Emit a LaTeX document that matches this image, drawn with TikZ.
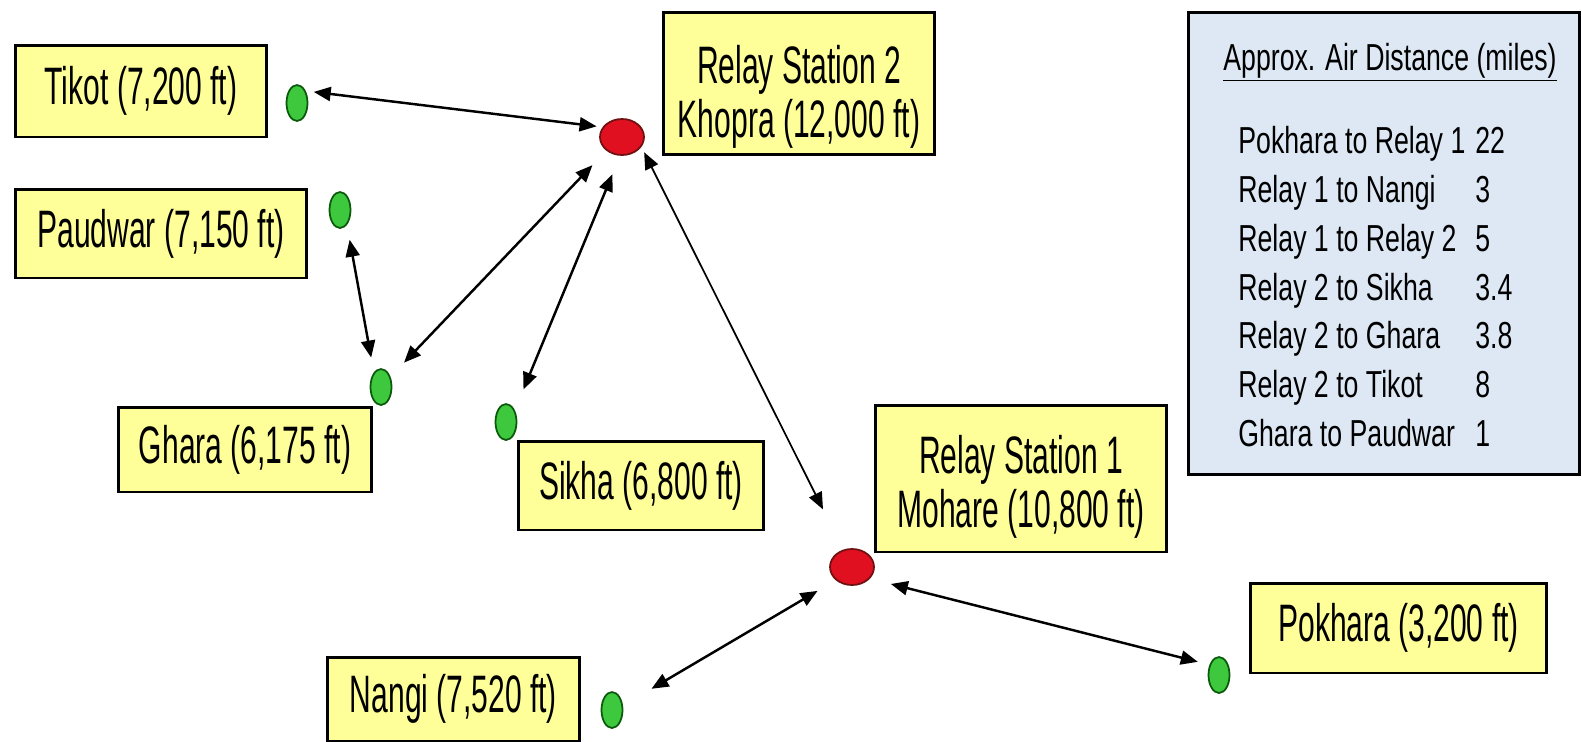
\documentclass[tikz,border=0pt]{standalone}
\usepackage{fontspec}
\setmainfont{Liberation Sans}
\newfontfamily\boxfont{Liberation Sans}[FakeStretch=0.57]
\newfontfamily\listfont{Liberation Sans}[FakeStretch=0.71]
\usepackage{tikz}
\usetikzlibrary{arrows.meta,shapes.geometric}
\definecolor{boxyellow}{HTML}{FFFF99}
\definecolor{legendblue}{HTML}{DDE8F4}
\definecolor{sitegreen}{HTML}{3DC83D}
\definecolor{sitedark}{HTML}{0B5A0B}
\definecolor{hubred}{HTML}{E01020}
\definecolor{hubdark}{HTML}{701010}

\begin{document}
\begin{tikzpicture}[
    x=0.02cm, y=-0.02cm,
    place/.style={draw, line width=1.7pt, fill=boxyellow, align=center, inner sep=0pt, font=\boxfont\fontsize{30}{31}\selectfont},
    site/.style={ellipse, draw=sitedark, fill=sitegreen, line width=1pt, inner sep=0pt, minimum width=0.42cm, minimum height=0.72cm},
    hub/.style={ellipse, draw=hubdark, fill=hubred, line width=1pt, inner sep=0pt, minimum width=0.88cm, minimum height=0.72cm},
    link/.style={{Triangle[length=0.34cm,width=0.28cm]}-{Triangle[length=0.34cm,width=0.28cm]}, line width=1.4pt}
]
\fill[white] (0,0) rectangle (1582,741);
\useasboundingbox (0,0) rectangle (1582,741);

% Label boxes
\node[place, minimum width=5.04cm, minimum height=1.84cm] (tikotbox) at (141,91) {Tikot (7,200 ft)};
\node[place, minimum width=5.84cm, minimum height=1.78cm] (paudwarbox) at (161,233.5) {Paudwar (7,150 ft)};
\node[place, minimum width=5.08cm, minimum height=1.7cm] (gharabox) at (245,449.5) {Ghara (6,175 ft)};
\node[place, minimum width=4.92cm, minimum height=1.78cm] (sikhabox) at (641,485.5) {Sikha (6,800 ft)};
\node[place, minimum width=5.44cm, minimum height=2.86cm] (relay2box) at (799,83.5) {\rule{0pt}{1.3cm}Relay Station 2\\Khopra (12,000 ft)};
\node[place, minimum width=5.84cm, minimum height=2.94cm] (relay1box) at (1021,478.5) {\rule{0pt}{1.1cm}Relay Station 1\\Mohare (10,800 ft)};
\node[place, minimum width=5.06cm, minimum height=1.68cm] (nangibox) at (453.5,699) {Nangi (7,520 ft)};
\node[place, minimum width=5.94cm, minimum height=1.8cm] (pokharabox) at (1398.5,628) {Pokhara (3,200 ft)};

% Sites and relays
\node[hub] (relay2) at (622,137) {};
\node[hub] (relay1) at (852,567) {};
\node[site] (tikot) at (297,103) {};
\node[site] (paudwar) at (340,210) {};
\node[site] (ghara) at (381,387) {};
\node[site] (sikha) at (506,422) {};
\node[site] (nangi) at (612,710) {};
\node[site] (pokhara) at (1219,675) {};

% Radio links
\draw[link, shorten <=0.16cm, shorten >=0.12cm] (tikot.54) -- (relay2.153);
\draw[link, shorten <=0.3cm, shorten >=0.3cm] (paudwar.-65) -- (ghara.116);
\draw[link, shorten <=0.4cm, shorten >=0.39cm] (relay2.221) -- (ghara.47);
\draw[link, shorten <=0.4cm, shorten >=0.45cm] (relay2.264) -- (sikha.53);
\draw[link, line width=1pt, shorten <=0.12cm, shorten >=0.9cm] (relay2.-27) -- (relay1.117);
\draw[link, shorten <=0.42cm, shorten >=0.66cm] (relay1.219) -- (nangi.22);
\draw[link, shorten <=0.43cm, shorten >=0.24cm] (relay1.-33) -- (pokhara.133);

% Distance table
\node[draw, line width=1.7pt, fill=legendblue, minimum width=7.84cm, minimum height=9.26cm] (legend) at (1384,243.5) {};
\node[anchor=base, inner sep=0pt, font=\listfont\fontsize{21.4}{26}\selectfont] (legendtitle) at (1390,70) {\underline{Approx. Air Distance (miles)}};
\node[anchor=north west, inner sep=0pt, font=\listfont\fontsize{21.4}{27.8}\selectfont] (legendlist) at (1238,119) {%
\begin{tabular}{@{}p{4.74cm}@{}l@{}}
Pokhara to Relay 1 & 22\\
Relay 1 to Nangi & 3\\
Relay 1 to Relay 2 & 5\\
Relay 2 to Sikha & 3.4\\
Relay 2 to Ghara & 3.8\\
Relay 2 to Tikot & 8\\
Ghara to Paudwar & 1
\end{tabular}};
\end{tikzpicture}
\end{document}
